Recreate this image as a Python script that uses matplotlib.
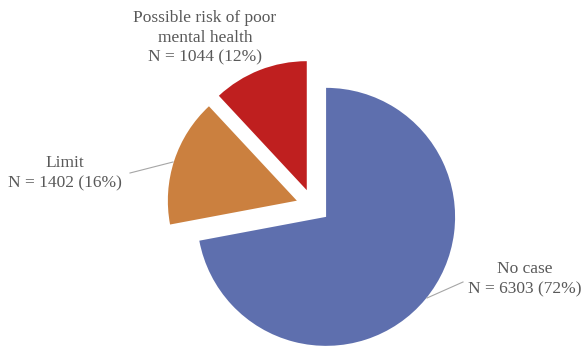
import matplotlib
matplotlib.use('Agg')
from matplotlib import pyplot as plt

# slices, clockwise from 12 o'clock
labels = ['No case', 'Limit', 'Possible risk of poor\nmental health']
counts = [6303, 1402, 1044]
percents = [72, 16, 12]
colors = ['#5E6FAE', '#CB803F', '#BF1F1F']

W, H = 582, 348
fig = plt.figure(figsize=(W / 100, H / 100), dpi=100)
ax = fig.add_axes([0, 0, 1, 1])

radius = 129
center = (313, H - 206)
ax.pie(counts, colors=colors, startangle=90, counterclock=False,
       explode=[17, 17, 17], radius=radius, center=center,
       wedgeprops=dict(linewidth=0))
ax.set_xlim(0, W)
ax.set_ylim(0, H)
ax.set_aspect('equal')
ax.axis('off')

# label positions in pixels (x, y of text center) and leader lines
label_pos = [(525, 279), (65, 173), (205, 38)]
leaders = [[(427, 298), (463, 282)], [(130, 173), (173, 162)], None]
for lab, n, p, (x, y), ld in zip(labels, counts, percents, label_pos, leaders):
    ax.text(x, H - y, '{}\nN = {} ({}%)'.format(lab, n, p), ha='center', va='center',
            fontsize=12.5, family='Liberation Serif', color='#595959', linespacing=1.32)
    if ld is not None:
        ax.plot([ld[0][0], ld[1][0]], [H - ld[0][1], H - ld[1][1]],
                color='#A6A6A6', lw=0.8)

fig.savefig('out.png', dpi=100)
